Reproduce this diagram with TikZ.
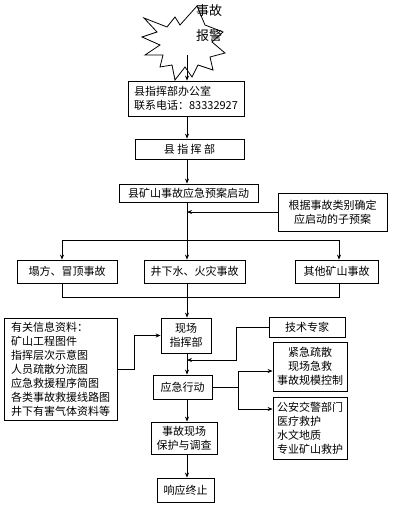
\documentclass[tikz,border=0pt]{standalone}
\usepackage{fontspec}
\setmainfont{Noto Sans CJK SC}
\usetikzlibrary{arrows.meta, positioning, calc}

\tikzset{
  box/.style={draw, line width=0.8pt, inner sep=1pt, align=center, font=\fontsize{11}{14}\selectfont},
  arr/.style={-{Stealth[length=5pt, width=4pt]}, line width=0.8pt},
  ln/.style={line width=0.8pt},
}

\begin{document}
\begin{tikzpicture}[x=1pt, y=-1pt]
\useasboundingbox (0,0) rectangle (393,505);
\def\mx{187}

\draw[ln, fill=white] (144,18) -- (167,27) -- (175,17) -- (180,25) -- (197,6) -- (205,25)
  -- (223,32) -- (212,42) -- (225,53) -- (210,57) -- (213,70) -- (198,65) -- (192,77)
  -- (185,67) -- (175,80) -- (172,65) -- (160,67) -- (163,55) -- (145,55) -- (160,45)
  -- (142,37) -- (157,32) -- cycle;
\node[font=\fontsize{13}{13}\selectfont] (alarma) at (209,11) {事故};
\node[font=\fontsize{13}{13}\selectfont] (alarmb) at (209,36) {报警};

\coordinate (m) at (\mx,0);
\coordinate (starbot) at (\mx,55);

\node[box, minimum width=116, minimum height=35, align=left] (office) at (186,98.5) {县指挥部办公室\\联系电话：83332927};
\node[box, minimum width=109, minimum height=20] (hq) at (189.5,149) {县\ 指\ 挥\ 部};
\node[box, minimum width=139, minimum height=18] (plan) at (188.5,193) {县矿山事故应急预案启动};
\node[box, minimum width=109, minimum height=38] (subplan) at (332.5,212) {根据事故类别确定\\应启动的子预案};
\node[box, minimum width=100, minimum height=23] (acca) at (67,271.5) {塌方、冒顶事故};
\node[box, minimum width=101, minimum height=23] (accb) at (194.5,271.5) {井下水、火灾事故};
\node[box, minimum width=83, minimum height=23] (accc) at (336.5,271.5) {其他矿山事故};
\node[box, minimum width=113, minimum height=102, align=left] (info) at (60.5,369)
  {有关信息资料：\\矿山工程图件\\指挥层次示意图\\人员疏散分流图\\应急救援程序简图\\各类事故救援线路图\\井下有害气体资料等};
\node[box, minimum width=50, minimum height=35] (site) at (186,335.5) {现场\\指挥部};
\node[box, minimum width=76, minimum height=20] (expert) at (307,327) {技术专家};
\node[box, minimum width=59, minimum height=24] (action) at (182.5,387) {应急行动};
\node[box, minimum width=74, minimum height=49] (rescue) at (310,366.5) {紧急疏散\\现场急救\\事故规模控制};
\node[box, minimum width=74, minimum height=62, align=left] (dept) at (310,428) {公安交警部门\\医疗救护\\水文地质\\专业矿山救护};
\node[box, minimum width=66, minimum height=32] (protect) at (184,438) {事故现场\\保护与调查};
\node[box, minimum width=57, minimum height=24] (stop) at (185.5,490) {响应终止};

\draw[arr] (starbot) -- (starbot |- office.north);
\draw[arr] (office.south -| m) -- (hq.north -| m);
\draw[arr] (hq.south -| m) -- (plan.north -| m);
\coordinate (split) at (\mx,240);
\coordinate (splitl) at (62,240);
\coordinate (splitr) at (339,240);
\draw[ln] (plan.south -| m) -- (split);
\draw[arr] (subplan.west) -- (subplan.west -| m);
\draw[ln] (splitl) -- (splitr);
\draw[arr] (splitl) -- (splitl |- acca.north);
\draw[arr] (split) -- (split |- accb.north);
\draw[arr] (splitr) -- (splitr |- accc.north);

\coordinate (merge) at (\mx,297);
\coordinate (mergel) at (62,297);
\coordinate (merger) at (339,297);
\draw[ln] (acca.south -| mergel) -- (mergel) -- (merger) -- (accc.south -| merger);
\draw[ln] (accb.south -| merge) -- (merge);
\draw[arr] (merge) -- (site.north -| merge);

\draw[arr] (info.east) -- ++(17,0) |- (site.west);
\coordinate (join) at (\mx,360);
\draw[arr] (expert.west) -- ++(-32,0) |- (join);
\draw[arr] (site.south -| m) -- (action.north -| m);

\coordinate (fork) at (238,387);
\coordinate (forkt) at (238,371);
\coordinate (forkb) at (238,409);
\draw[ln] (action.east) -- (fork);
\draw[ln] (forkt) -- (forkb);
\draw[arr] (forkt) -- (forkt -| rescue.west);
\draw[arr] (forkb) -- (forkb -| dept.west);
\draw[arr] (action.south -| m) -- (protect.north -| m);
\draw[arr] (protect.south -| m) -- (stop.north -| m);
\end{tikzpicture}
\end{document}
